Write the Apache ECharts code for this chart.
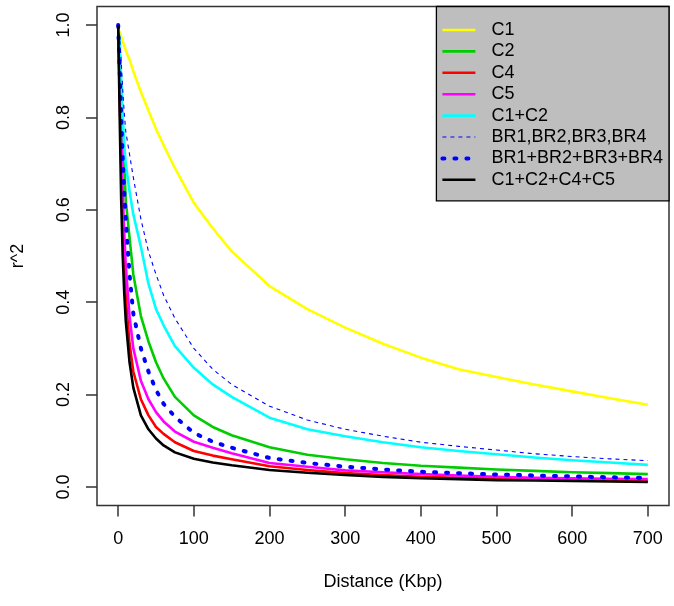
<!DOCTYPE html>
<html><head><meta charset="utf-8">
<script src="https://cdn.jsdelivr.net/npm/echarts@6/dist/echarts.min.js"></script>
<style>html,body{margin:0;padding:0;background:#fff}#c{width:674px;height:606px}</style>
</head><body><div id="c"></div>
<script>
// Distance (Kbp) sample positions
const distances = [0,2,4,6,8,10,15,20,30,40,50,60,75,100,125,150,200,250,300,350,400,450,500,550,600,650,700];
// r^2 values
const C1    = [0.99,0.985,0.975,0.965,0.955,0.945,0.925,0.90,0.855,0.815,0.775,0.74,0.69,0.615,0.56,0.51,0.435,0.385,0.345,0.31,0.28,0.255,0.238,0.222,0.207,0.192,0.178];
const C2    = [1,0.94,0.86,0.78,0.70,0.62,0.54,0.46,0.37,0.315,0.27,0.235,0.195,0.155,0.13,0.112,0.086,0.07,0.06,0.052,0.046,0.042,0.038,0.035,0.032,0.030,0.028];
const C4    = [1,0.85,0.70,0.57,0.48,0.41,0.31,0.25,0.19,0.155,0.13,0.115,0.097,0.078,0.068,0.06,0.045,0.037,0.030,0.026,0.022,0.020,0.018,0.016,0.015,0.014,0.013];
const C5    = [1,0.88,0.76,0.64,0.55,0.48,0.37,0.30,0.23,0.19,0.162,0.142,0.12,0.098,0.085,0.073,0.052,0.044,0.036,0.032,0.028,0.025,0.022,0.020,0.019,0.018,0.017];
const C1C2  = [1,0.96,0.88,0.80,0.74,0.70,0.64,0.59,0.52,0.44,0.385,0.35,0.305,0.258,0.222,0.195,0.15,0.125,0.110,0.097,0.086,0.078,0.071,0.064,0.058,0.053,0.048];
const BRsep = [1,0.97,0.92,0.86,0.81,0.77,0.72,0.67,0.58,0.51,0.46,0.415,0.365,0.30,0.255,0.222,0.175,0.145,0.125,0.110,0.097,0.088,0.080,0.072,0.066,0.061,0.057];
const BRsum = [1,0.90,0.80,0.71,0.64,0.58,0.46,0.375,0.30,0.25,0.21,0.18,0.152,0.117,0.098,0.085,0.063,0.052,0.044,0.038,0.033,0.030,0.027,0.025,0.023,0.021,0.020];
const Call  = [1,0.80,0.62,0.50,0.42,0.36,0.27,0.215,0.155,0.125,0.105,0.09,0.075,0.061,0.053,0.047,0.037,0.031,0.026,0.022,0.019,0.017,0.015,0.014,0.013,0.012,0.011];
const names = ['C1','C2','C4','C5','C1+C2','BR1,BR2,BR3,BR4','BR1+BR2+BR3+BR4','C1+C2+C4+C5'];
const ticksX = [0,100,200,300,400,500,600,700];
const ticksY = [0,0.2,0.4,0.6,0.8,1.0];

const FONT = '"Liberation Sans", Arial, Helvetica, sans-serif';
function pairs(ys){ return distances.map((d,i)=>[d,ys[i]]); }
const defs = [
  {data:C1,   color:'#FFFF00', width:2.6, type:'solid'},
  {data:C2,   color:'#00CD00', width:2.6, type:'solid'},
  {data:C4,   color:'#FF0000', width:2.6, type:'solid'},
  {data:C5,   color:'#FF00FF', width:2.6, type:'solid'},
  {data:C1C2, color:'#00FFFF', width:2.6, type:'solid'},
  {data:BRsep,color:'#0000FF', width:1.1, type:[4,4]},
  {data:BRsum,color:'#0000FF', width:4, type:[2,10], cap:'round'},
  {data:Call, color:'#000000', width:2.6, type:'solid'}
];
const series = defs.map((d,i)=>({
  type:'line', name:names[i], data:pairs(d.data), symbol:'none', showSymbol:false,
  smooth:false,
  lineStyle:{color:d.color, width:d.width, type:d.type, cap:d.cap||'butt', join:'round'},
  itemStyle:{color:d.color}
}));
const legendData = defs.map((d,i)=>({
  name:names[i],
  lineStyle:{color:d.color, width:d.width, type:d.type, cap:d.cap||'butt'}
}));

const chart = echarts.init(document.getElementById('c'), null, {renderer:'canvas'});
chart.setOption({
  animation:false,
  backgroundColor:'#ffffff',
  grid:{left:97,right:5,top:6.5,bottom:100.5,show:true,borderColor:'#333',borderWidth:1.5,backgroundColor:'transparent',outerBoundsMode:'none'},
  xAxis:{type:'value',min:-28,max:728,
    axisLine:{show:false,onZero:false},splitLine:{show:false},
    axisTick:{show:true,customValues:ticksX,length:11,lineStyle:{color:'#333',width:1.5}},
    axisLabel:{customValues:ticksX,margin:25,fontSize:18,color:'#000',fontFamily:FONT},
    name:'Distance (Kbp)',nameLocation:'middle',nameGap:68,
    nameTextStyle:{fontSize:18,color:'#000',fontFamily:FONT}},
  yAxis:{type:'value',min:-0.04,max:1.04,
    axisLine:{show:false,onZero:false},splitLine:{show:false},
    axisTick:{show:true,customValues:ticksY,length:11,lineStyle:{color:'#333',width:1.5}},
    axisLabel:{customValues:ticksY,margin:24,rotate:90,fontSize:18,color:'#000',fontFamily:FONT,
      formatter:v=>Number(v).toFixed(1)},
    name:'r^2',nameLocation:'middle',nameGap:70,nameRotate:90,
    nameTextStyle:{fontSize:18,color:'#000',fontFamily:FONT}},
  legend:{
    data:legendData, orient:'vertical', right:5, top:6.5,
    backgroundColor:'#BEBEBE', borderColor:'#000', borderWidth:1.3,
    padding:[14.5,6,12,4], itemWidth:33, itemHeight:14, itemGap:3.4,
    selectedMode:false,
    lineStyle:{width:'inherit', type:'inherit'},
    itemStyle:{color:'rgba(0,0,0,0)', borderColor:'rgba(0,0,0,0)', borderWidth:0, opacity:0},
    textStyle:{fontSize:18,color:'#000',fontFamily:FONT,lineHeight:14,padding:[0,0,0,11]}
  },
  series:series
});
</script></body></html>
